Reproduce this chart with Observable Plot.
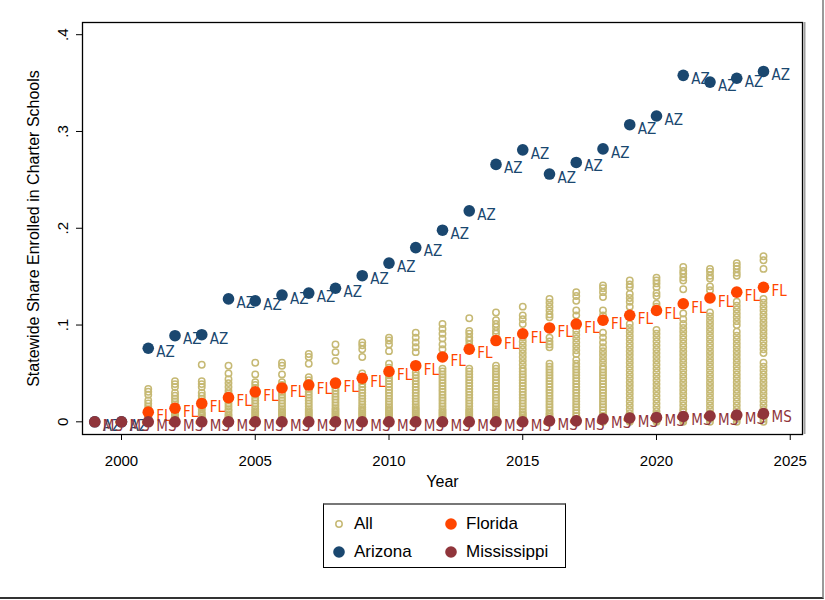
<!DOCTYPE html>
<html><head><meta charset="utf-8">
<script src="https://cdn.jsdelivr.net/npm/d3@7"></script>
<script src="https://cdn.jsdelivr.net/npm/@observablehq/plot@0.6"></script>
<style>
html,body{margin:0;padding:0;background:#fff;}
#wrap{position:relative;width:825px;height:600px;overflow:hidden;font-family:"Liberation Sans",Arial,sans-serif;}
#edge{position:absolute;left:0;top:0;width:822px;height:597px;border-right:2px solid #9a9a9a;border-bottom:2px solid #333;pointer-events:none;}
#legend{position:absolute;left:323px;top:503px;width:243px;height:65px;border:1px solid #000;border-top:2px solid #777;box-sizing:border-box;}
.item{position:absolute;font-size:17px;color:#000;display:flex;align-items:center;}
.item svg{margin-right:8px;}
</style></head>
<body><div id="wrap"><div id="chart"></div><div id="legend"></div><div id="edge"></div></div>
<script>
const years = [1999,2000,2001,2002,2003,2004,2005,2006,2007,2008,2009,2010,2011,2012,2013,2014,2015,2016,2017,2018,2019,2020,2021,2022,2023,2024];
const azShare = [0,0,0.076,0.089,0.090,0.127,0.125,0.131,0.133,0.138,0.151,0.164,0.180,0.198,0.218,0.266,0.281,0.256,0.268,0.282,0.307,0.316,0.358,0.351,0.355,0.362];
const flShare = [null,null,0.010,0.014,0.019,0.025,0.031,0.035,0.038,0.040,0.045,0.052,0.058,0.067,0.075,0.084,0.091,0.097,0.101,0.105,0.110,0.115,0.122,0.128,0.134,0.139];
const msShare = [0,0,0,0,0,0,0,0,0,0,0,0,0,0,0,0,0,0.001,0.001,0.003,0.004,0.0045,0.0055,0.006,0.007,0.0085];
const allShare = [
 [0,0,0],
 [0,0,0,0.001],
 [0.034,0.031,0.028,0.022,0.019,0.016,0.013,0.011,0.009,0.007,0.005,0.004,0.003,0.002,0.001,0.001,0,0,0],
 [0.042,0.039,0.036,0.030,0.027,0.024,0.021,0.018,0.015,0.012,0.010,0.008,0.006,0.004,0.003,0.002,0.001,0,0],
 [0.059,0.042,0.039,0.036,0.030,0.027,0.024,0.021,0.018,0.015,0.013,0.010,0.008,0.006,0.004,0.003,0.002,0.001,0],
 [0.058,0.050,0.044,0.040,0.036,0.032,0.029,0.026,0.022,0.019,0.016,0.013,0.011,0.008,0.006,0.004,0.003,0.002,0.001,0],
 [0.061,0.049,0.041,0.038,0.035,0.032,0.028,0.025,0.022,0.019,0.016,0.013,0.011,0.009,0.007,0.005,0.003,0.002,0.001,0],
 [0.061,0.058,0.049,0.041,0.038,0.035,0.031,0.028,0.025,0.022,0.019,0.016,0.013,0.011,0.009,0.007,0.005,0.003,0.002,0.001,0],
 [0.070,0.067,0.060,0.046,0.043,0.040,0.037,0.034,0.031,0.028,0.025,0.022,0.019,0.016,0.013,0.011,0.009,0.007,0.005,0.003,0.002,0.001,0],
 [0.080,0.072,0.063,0.041,0.038,0.035,0.032,0.029,0.026,0.023,0.020,0.017,0.014,0.012,0.010,0.008,0.006,0.004,0.003,0.002,0.001,0],
 [0.082,0.079,0.075,0.067,0.050,0.046,0.042,0.039,0.036,0.033,0.030,0.027,0.024,0.021,0.018,0.015,0.013,0.011,0.009,0.007,0.005,0.003,0.002,0.001,0],
 [0.087,0.084,0.080,0.073,0.060,0.056,0.048,0.045,0.042,0.039,0.036,0.033,0.030,0.027,0.024,0.021,0.018,0.015,0.013,0.011,0.009,0.007,0.005,0.003,0.002,0.001,0],
 [0.092,0.087,0.082,0.077,0.072,0.051,0.048,0.045,0.042,0.039,0.036,0.033,0.030,0.027,0.024,0.021,0.018,0.015,0.013,0.011,0.009,0.007,0.005,0.003,0.002,0.001,0],
 [0.101,0.096,0.091,0.086,0.080,0.075,0.055,0.052,0.049,0.046,0.043,0.040,0.037,0.034,0.031,0.028,0.025,0.022,0.019,0.016,0.013,0.011,0.009,0.007,0.005,0.003,0.002,0.001,0],
 [0.107,0.094,0.091,0.087,0.084,0.080,0.055,0.052,0.049,0.046,0.043,0.040,0.037,0.034,0.031,0.028,0.025,0.022,0.019,0.016,0.013,0.011,0.009,0.007,0.005,0.003,0.002,0.001,0],
 [0.113,0.105,0.101,0.098,0.094,0.091,0.058,0.055,0.052,0.049,0.046,0.043,0.040,0.037,0.034,0.031,0.028,0.025,0.022,0.019,0.016,0.013,0.011,0.009,0.007,0.005,0.003,0.002,0.001,0],
 [0.119,0.110,0.106,0.101,0.087,0.083,0.079,0.075,0.071,0.067,0.063,0.059,0.055,0.052,0.049,0.046,0.043,0.040,0.037,0.034,0.031,0.028,0.025,0.022,0.019,0.016,0.013,0.010,0.008,0.006,0.004,0.002,0.001,0],
 [0.127,0.123,0.119,0.115,0.111,0.108,0.087,0.083,0.080,0.077,0.060,0.057,0.054,0.051,0.048,0.045,0.042,0.039,0.036,0.033,0.030,0.027,0.024,0.021,0.018,0.015,0.012,0.009,0.007,0.005,0.003,0.001,0],
 [0.134,0.130,0.125,0.115,0.110,0.094,0.090,0.086,0.082,0.078,0.074,0.070,0.064,0.060,0.057,0.054,0.051,0.048,0.045,0.042,0.039,0.036,0.033,0.030,0.027,0.024,0.021,0.018,0.015,0.012,0.009,0.006,0.003,0.001,0],
 [0.141,0.138,0.134,0.129,0.115,0.110,0.092,0.087,0.082,0.077,0.073,0.069,0.065,0.061,0.057,0.054,0.051,0.048,0.045,0.042,0.039,0.036,0.033,0.030,0.027,0.024,0.021,0.018,0.015,0.012,0.009,0.006,0.003,0.001,0],
 [0.146,0.142,0.139,0.132,0.128,0.124,0.119,0.101,0.097,0.093,0.089,0.085,0.081,0.077,0.073,0.069,0.065,0.061,0.057,0.053,0.049,0.045,0.041,0.037,0.033,0.029,0.025,0.021,0.017,0.013,0.009,0.006,0.003,0.001,0],
 [0.149,0.146,0.143,0.139,0.133,0.130,0.122,0.119,0.095,0.091,0.087,0.083,0.079,0.075,0.071,0.067,0.063,0.059,0.055,0.051,0.047,0.043,0.039,0.035,0.031,0.027,0.023,0.019,0.015,0.011,0.008,0.005,0.003,0.001,0],
 [0.160,0.156,0.153,0.149,0.146,0.137,0.112,0.106,0.101,0.097,0.093,0.089,0.085,0.081,0.077,0.073,0.069,0.065,0.061,0.057,0.053,0.049,0.045,0.041,0.037,0.033,0.029,0.025,0.021,0.017,0.013,0.010,0.007,0.004,0.002,0],
 [0.158,0.155,0.151,0.148,0.140,0.136,0.113,0.109,0.105,0.101,0.097,0.093,0.089,0.085,0.081,0.077,0.073,0.069,0.065,0.061,0.057,0.053,0.049,0.045,0.041,0.037,0.033,0.029,0.025,0.021,0.017,0.013,0.009,0.006,0.003,0],
 [0.164,0.161,0.158,0.154,0.151,0.124,0.120,0.116,0.112,0.108,0.104,0.100,0.093,0.089,0.085,0.081,0.077,0.073,0.069,0.065,0.061,0.057,0.053,0.049,0.045,0.041,0.037,0.033,0.029,0.025,0.021,0.017,0.013,0.009,0.006,0.003,0],
 [0.171,0.167,0.158,0.127,0.123,0.119,0.115,0.111,0.107,0.103,0.099,0.095,0.091,0.087,0.083,0.079,0.075,0.071,0.061,0.057,0.053,0.049,0.045,0.041,0.037,0.033,0.029,0.025,0.021,0.017,0.013,0.009,0.006,0.003,0]
];
const xTicks = [2000,2005,2010,2015,2020,2025];
const yTicks = [0,0.1,0.2,0.3,0.4];
const yTickLabels = ["0",".1",".2",".3",".4"];
const seriesNames = ["All","Arizona","Florida","Mississippi"];
const colors = {All:"#c6b974", AZ:"#1a476f", FL:"#ff4500", MS:"#90353b"};

const allRows = years.flatMap((yr,i) => allShare[i].map(v => ({year:yr, share:v})));
const mk = (arr, code) => years.map((yr,i)=>({year:yr, share:arr[i], code})).filter(d=>d.share!=null);
const az = mk(azShare,"AZ"), fl = mk(flShare,"FL"), ms = mk(msShare,"MS");
const labFont = "'DejaVu Sans Condensed','Liberation Sans Narrow','DejaVu Sans',sans-serif";

function stateMarks(rows, color){
  return [
    Plot.dot(rows,{x:"year",y:"share",r:5.8,fill:color,stroke:"none"}),
    Plot.text(rows,{x:"year",y:"share",text:"code",fill:color,dx:8,dy:4,textAnchor:"start",fontSize:15,fontFamily:labFont})
  ];
}

const chart = Plot.plot({
  width:825, height:495,
  marginLeft:82, marginRight:23, marginTop:22, marginBottom:61,
  style:{fontFamily:"'Liberation Sans',Arial,sans-serif", background:"#fff", color:"#000"},
  x:{domain:[1998.542,2025.458]},
  y:{domain:[-0.0131,0.4126]},
  marks:[
    Plot.dot(allRows,{x:"year",y:"share",r:3.2,stroke:colors.All,strokeWidth:1.5,fill:"none"}),
    ...stateMarks(az, colors.AZ),
    ...stateMarks(fl, colors.FL),
    ...stateMarks(ms, colors.MS),
    Plot.frame({stroke:"#000",strokeWidth:1.3}),
    Plot.ruleX([2025.458],{stroke:"#a0a0a0",strokeWidth:2,dx:2}),
    Plot.axisX({ticks:xTicks,tickSize:6,tickPadding:15,tickFormat:d=>String(d),fontSize:15,label:null}),
    Plot.axisY({ticks:yTicks,tickSize:6,tickFormat:()=>"",label:null}),
    Plot.text(yTicks,{y:d=>d,text:(d,i)=>yTickLabels[i],frameAnchor:"left",dx:-19,rotate:-90,fontSize:15,textAnchor:"middle",lineAnchor:"middle"}),
    Plot.text(["Year"],{frameAnchor:"bottom",dy:47,fontSize:16,textAnchor:"middle",lineAnchor:"middle"}),
    Plot.text(["Statewide Share Enrolled in Charter Schools"],{frameAnchor:"left",dx:-49,rotate:-90,fontSize:16,textAnchor:"middle",lineAnchor:"middle"})
  ]
});
document.getElementById("chart").appendChild(chart);

const lg = document.getElementById("legend");
const legendItems = [
  {name:seriesNames[0], left:8, top:9, hollow:true, color:colors.All},
  {name:seriesNames[2], left:120, top:9, hollow:false, color:colors.FL},
  {name:seriesNames[1], left:8, top:37, hollow:false, color:colors.AZ},
  {name:seriesNames[3], left:120, top:37, hollow:false, color:colors.MS}
];
for (const it of legendItems){
  const d = document.createElement("div");
  d.className="item"; d.style.left=it.left+"px"; d.style.top=it.top+"px";
  const c = it.hollow ? `<circle cx="7" cy="7" r="3.2" fill="none" stroke="${it.color}" stroke-width="1.5"/>` : `<circle cx="7" cy="7" r="5.8" fill="${it.color}"/>`;
  d.innerHTML = `<svg width="14" height="14">${c}</svg><span>${it.name}</span>`;
  lg.appendChild(d);
}
</script></body></html>
